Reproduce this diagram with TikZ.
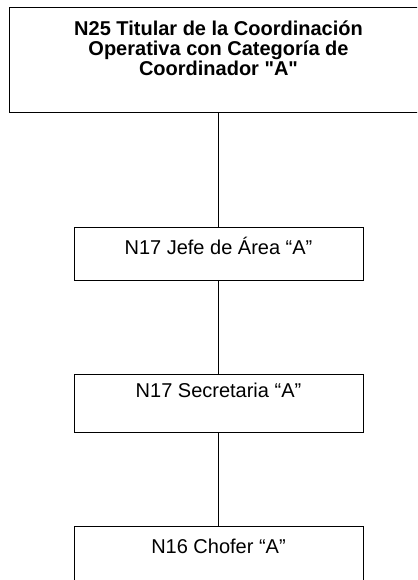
\documentclass[tikz,border=0pt]{standalone}
\usepackage{fontspec}
\setmainfont{Liberation Sans}
\usetikzlibrary{positioning}
\newcommand\comillas{\XeTeXglyph\XeTeXcharglyph"22\relax}

\begin{document}
\begin{tikzpicture}[x=1pt, y=1pt, node distance=93pt,
    every node/.style={font=\fontsize{20}{20}\selectfont}]
    \tikzset{
      puesto/.style={draw, line width=1pt, inner sep=0pt, minimum width=289pt, align=center},
      enlace/.style={draw, line width=1pt}
    }
    \useasboundingbox (0,0) rectangle (417,-580);
    \clip (0,0) rectangle (417,-580);

    \node[puesto, minimum width=419pt, text height=68pt, text depth=37pt,
          font=\bfseries\fontsize{20}{20}\selectfont] (titular) at (218.5,-60.5)
        {N25 Titular de la Coordinación\\Operativa con Categoría de\\Coordinador \comillas A\comillas};
    \node[puesto, text height=27pt, text depth=26pt] (jefe) [below=113pt of titular] {N17 Jefe de Área “A”};
    \node[puesto, text height=23pt, text depth=35pt] (secretaria) [below=of jefe] {N17 Secretaria “A”};
    \node[puesto, text height=27pt, text depth=35pt] (chofer) [below=of secretaria] {N16 Chofer “A”};

    \path[enlace]
        (titular) -- (jefe)
        (jefe) -- (secretaria)
        (secretaria) -- (chofer);

\end{tikzpicture}
\end{document}
